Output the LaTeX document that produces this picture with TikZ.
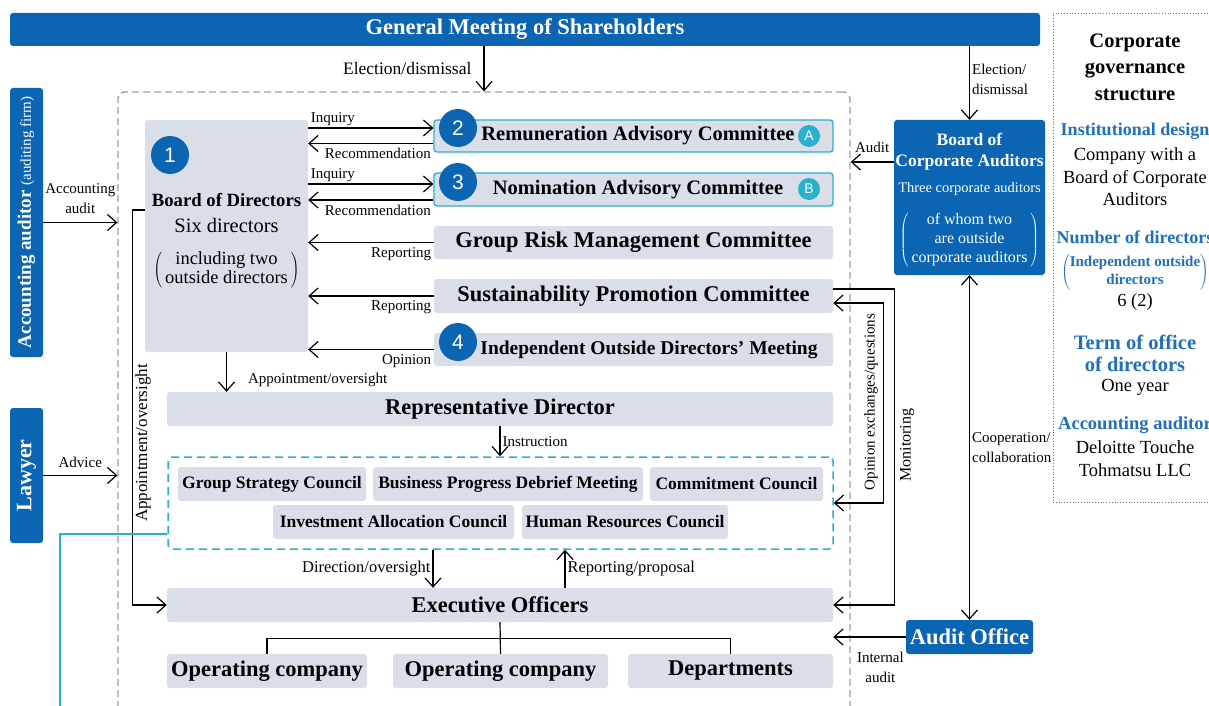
\documentclass[tikz,border=0pt]{standalone}
\usepackage{fontspec}
\setmainfont{Liberation Serif}
\setsansfont{Liberation Sans}
\usetikzlibrary{arrows.meta}
\definecolor{corp blue}{RGB}{12,101,178}
\definecolor{box grey}{RGB}{217,222,233}
\definecolor{cmt cyan}{RGB}{41,176,205}
\definecolor{info blue}{RGB}{30,112,186}
\colorlet{frame grey}{black!38}
\newcommand\fsz[2]{\fontsize{#1}{#2}\selectfont}
\tikzset{bluebox/.style={fill=corp blue, text=white, rounded corners=3pt, inner sep=0pt},
    greybox/.style={fill=box grey, rounded corners=3pt, inner sep=0pt, font=\bfseries\fsz{22.5}{26}},
    cmtbox/.style={greybox, draw=cmt cyan, line width=1.3pt, font=\bfseries\fsz{20.5}{24}},
    councilbox/.style={greybox, font=\bfseries\fsz{17.5}{20}},
    numdot/.style={circle, fill=corp blue, text=white, minimum size=38pt, inner sep=0pt, font=\sffamily\fsz{21}{21}},
    letterdot/.style={circle, fill=cmt cyan, text=white, minimum size=22pt, inner sep=0pt, font=\sffamily\fsz{14}{14}},
    lbl/.style={font=\fsz{15}{20}, inner sep=2pt},
    lblbelow/.style={lbl, inner ysep=4pt},
    arr/.style={-{Straight Barb[length=9pt,width=16pt]}, line width=1.2pt},
    arrboth/.style={{Straight Barb[length=9pt,width=16pt]}-{Straight Barb[length=9pt,width=16pt]}, line width=1.2pt},
    plain/.style={line width=1.2pt},
    cyan link/.style={draw=cmt cyan, line width=1.5pt},
    outerframe/.style={draw=frame grey, dash pattern=on 7pt off 4pt, line width=1.3pt, rounded corners=7pt},
    cmtframe/.style={draw=cmt cyan, dash pattern=on 8pt off 5pt, line width=1.5pt, rounded corners=4pt},
    infoframe/.style={draw=black!55, dotted, line width=0.8pt},
    infohead/.style={text=info blue, font=\bfseries\fsz{18}{22}},
    infotext/.style={font=\fsz{18.5}{22.5}}}

\begin{document}
\begin{tikzpicture}[x=1pt, y=-1pt]
    \useasboundingbox (0,0) rectangle (1209,706);

    \node[outerframe, minimum width=732pt, minimum height=640pt] (frame) at (484,412) {};
    \node[infoframe, minimum width=180pt, minimum height=489pt] (info) at (1143,257.5) {};

    \node[bluebox, minimum width=1030pt, minimum height=33pt, font=\bfseries\fsz{22.5}{24}] (gm) at (525,29.5) {General Meeting of Shareholders};
    \node[bluebox, rotate=90, minimum width=269pt, minimum height=33pt] (acc) at (26.5,222.5) {\fsz{19}{20}\textbf{Accounting auditor} \fsz{15}{16}(auditing firm)};
    \node[bluebox, rotate=90, minimum width=135pt, minimum height=33pt, font=\bfseries\fsz{22}{24}] (law) at (26.5,475.5) {Lawyer};

    \node[greybox, minimum width=163pt, minimum height=232pt] (bod) at (226.5,236) {};
    \node[font=\fsz{20.5}{26}, align=center, inner sep=0pt] (bodtext) at (226.5,241)
        {{\bfseries\fsz{18.7}{22}Board of Directors}\\ Six directors\\[16pt]
         {\fsz{18.5}{18}$\left(\begin{tabular}{@{\hspace{3pt}}c@{\hspace{3pt}}}including two\\outside directors\end{tabular}\right)$}};
    \node[numdot] (n1) at (170,155) {1};

    \node[cmtbox, minimum width=399pt, minimum height=32pt] (rem) at (633.5,136) {\hspace*{9pt}Remuneration Advisory Committee};
    \node[cmtbox, minimum width=399pt, minimum height=33pt] (nom) at (633.5,189.5) {\hspace*{9pt}Nomination Advisory Committee};
    \node[greybox, minimum width=399pt, minimum height=33pt] (grm) at (633.5,242.5) {Group Risk Management Committee};
    \node[greybox, minimum width=399pt, minimum height=34pt] (spc) at (633.5,296) {Sustainability Promotion Committee};
    \node[greybox, minimum width=399pt, minimum height=33pt, font=\bfseries\fsz{19.5}{22}] (iod) at (633.5,349.5) {\hspace*{31pt}Independent Outside Directors’ Meeting};
    \node[numdot] (n2) at (458,128) {2};
    \node[numdot] (n3) at (458,182) {3};
    \node[numdot] (n4) at (458,342) {4};
    \node[letterdot] (la) at (809,136) {A};
    \node[letterdot] (lb) at (809,189) {B};

    \node[greybox, minimum width=666pt, minimum height=34pt] (rep) at (500,409) {Representative Director};
    \node[cmtframe, minimum width=665pt, minimum height=92pt] (cou) at (500.5,503) {};
    \node[councilbox, minimum width=188pt, minimum height=34pt] (gsc) at (272,484) {Group Strategy Council};
    \node[councilbox, minimum width=270pt, minimum height=34pt] (bpd) at (508,484) {Business Progress Debrief Meeting};
    \node[councilbox, minimum width=173pt, minimum height=34pt] (cmc) at (736.5,484) {Commitment Council};
    \node[councilbox, minimum width=241pt, minimum height=34pt] (iac) at (393.5,522) {Investment Allocation Council};
    \node[councilbox, minimum width=206pt, minimum height=34pt] (hrc) at (625,522) {Human Resources Council};
    \node[greybox, minimum width=666pt, minimum height=34pt] (exo) at (500,605) {Executive Officers};
    \node[greybox, minimum width=200pt, minimum height=34pt] (opc1) at (267,671) {Operating company};
    \node[greybox, minimum width=215pt, minimum height=34pt] (opc2) at (500.5,671) {Operating company};
    \node[greybox, minimum width=205pt, minimum height=34pt] (dep) at (730.5,671) {Departments};

    \node[bluebox, minimum width=151pt, minimum height=155pt] (bca) at (969.5,197.5) {};
    \node[text=white, align=center, font=\bfseries\fsz{17.5}{21}, inner sep=0pt] (bcatext) at (969.5,200.5)
        {Board of\\ Corporate Auditors\\[5pt] {\mdseries\fsz{14.5}{16}Three corporate auditors}\\[15pt]
         {\mdseries\fsz{16}{19}$\left(\begin{tabular}{@{\hspace{3pt}}c@{\hspace{3pt}}}of whom two\\are outside\\corporate auditors\end{tabular}\right)$}};
    \node[bluebox, minimum width=127pt, minimum height=34pt, font=\bfseries\fsz{22.5}{24}] (ao) at (969.5,637) {Audit Office};

    \node[font=\bfseries\fsz{20.5}{26.5}, align=center] (ttl) at (1135,67) {Corporate\\governance\\structure};
    \node[infohead] (h1) at (1135,131) {Institutional design};
    \node[infotext, align=center] (t1) at (1135,177) {Company with a\\Board of Corporate\\Auditors};
    \node[infohead] (h2) at (1135,237) {Number of directors};
    \node[text=info blue, font=\bfseries\fsz{15}{17.5}] (h2b) at (1135,272)
        {$\left(\begin{tabular}{@{}c@{}}Independent outside\\directors\end{tabular}\right)$};
    \node[infotext] (t2) at (1135,302) {6 (2)};
    \node[infohead, font=\bfseries\fsz{20.5}{22}, align=center] (h3) at (1135,353) {Term of office\\of directors};
    \node[infotext] (t3) at (1135,387) {One year};
    \node[infohead, font=\bfseries\fsz{18.5}{22}] (h4) at (1135,425) {Accounting auditor};
    \node[infotext, align=center] (t4) at (1135,458.5) {Deloitte Touche\\Tohmatsu LLC};

    \draw[arr] (acc.south) -- (acc.south -| frame.west) node[lbl, midway, above=6pt, align=center] (lAcc) {Accounting\\audit};
    \draw[arr] (law.south) -- (law.south -| frame.west) node[lbl, midway, above=5pt] (lAdv) {Advice};
    \draw[arr] (gm.south -| frame.north) -- (frame.north) node[lbl, midway, left=10pt, font=\fsz{17.5}{19}] (lEl1) {Election/dismissal};
    \draw[arr] (gm.south -| bca.north) -- (bca.north) node[lbl, pos=0.45, right, align=left] (lEl2) {Election/\\dismissal};

    \coordinate (inq1) at ([yshift=8pt]rem.west);
    \coordinate (rec1) at ([yshift=-7.5pt]rem.west);
    \coordinate (inq2) at ([yshift=5.5pt]nom.west);
    \coordinate (rec2) at ([yshift=-10.5pt]nom.west);
    \draw[arr] (inq1 -| bod.east) -- (inq1) node[lbl, pos=0, anchor=south west] (lInq1) {Inquiry};
    \draw[arr] (rec1) -- (rec1 -| bod.east) node[lblbelow, pos=0, anchor=north east] (lRec1) {Recommendation};
    \draw[arr] (inq2 -| bod.east) -- (inq2) node[lbl, pos=0, anchor=south west] (lInq2) {Inquiry};
    \draw[arr] (rec2) -- (rec2 -| bod.east) node[lblbelow, pos=0, anchor=north east] (lRec2) {Recommendation};
    \draw[arr] (grm.west) -- (grm.west -| bod.east) node[lblbelow, pos=0, anchor=north east] (lRep1) {Reporting};
    \draw[arr] (spc.west) -- (spc.west -| bod.east) node[lblbelow, pos=0, anchor=north east] (lRep2) {Reporting};
    \draw[arr] (iod.west) -- (iod.west -| bod.east) node[lblbelow, pos=0, anchor=north east] (lOpi) {Opinion};

    \draw[arr] (bod.south) -- (bod.south |- rep.north) node[lbl, pos=0.7, right=19pt] (lApp1) {Appointment/oversight};
    \draw[arr] (rep.south) -- (rep.south |- cou.north) node[lbl, midway, right] (lIns) {Instruction};
    \coordinate (dirx) at (433,0);
    \coordinate (rppx) at (565,0);
    \draw[arr] (cou.south -| dirx) -- (exo.north -| dirx) node[lbl, midway, left, font=\fsz{16.5}{18}] (lDir) {Direction/oversight};
    \draw[arr] (exo.north -| rppx) -- (cou.south -| rppx) node[lbl, midway, right, font=\fsz{16.5}{18}] (lRpp) {Reporting/proposal};

    \draw[arr] ([yshift=26pt]bod.west) -- ++(-12,0) |- (exo.west);
    \node[lbl, rotate=90, font=\fsz{17}{19}] (lApp2) at (143,443) {Appointment/oversight};
    \coordinate (cyanEnd) at (60,720);
    \draw[cyan link] ([yshift=-31pt]cou.west) -| (cyanEnd);

    \draw[plain] (exo.south) -- (opc2.north);
    \draw[plain] (opc1.north) -- ++(0,-15) -| (dep.north);

    \draw[arr] ([yshift=7pt]spc.east) -- ++(61,0) |- (exo.east);
    \draw[arrboth] ([yshift=-7pt]spc.east) -- ++(50,0) |- (cou.east);
    \node[lbl, rotate=90, font=\fsz{16}{18}] (lMon) at (907,445) {Monitoring};
    \node[lbl, rotate=90] (lOpx) at (871,402) {Opinion exchanges/questions};

    \coordinate (audL) at ([yshift=35.5pt]bca.west);
    \draw[arr] (audL) -- (audL -| frame.east) node[lbl, midway, above=7pt] (lAud) {Audit};
    \draw[arrboth] (bca.south) -- (ao.north) node[lbl, midway, right, align=left] (lCoop) {Cooperation/\\collaboration};
    \draw[arr] (ao.west) -- (ao.west -| exo.east) node[lbl, pos=0.35, below=12pt, align=center] (lInt) {Internal\\audit};
\end{tikzpicture}
\end{document}
